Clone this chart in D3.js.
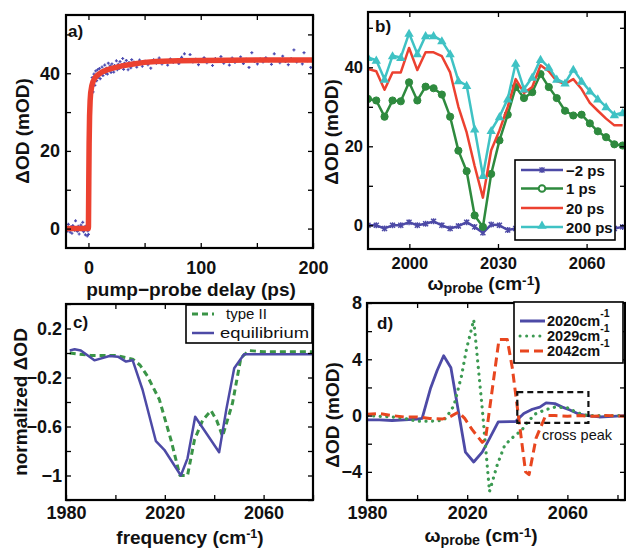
<!DOCTYPE html>
<html><head><meta charset="utf-8">
<script src="https://cdn.jsdelivr.net/npm/d3@7"></script>
<style>
body{margin:0;background:#fff;}
text{font-family:"Liberation Sans",Arial,sans-serif;}
</style></head>
<body><svg id="c" width="626" height="550"></svg>
<script>
// ---------- DATA ----------
// panel a: pump-probe transient (scatter) and fit
const aDelay = [-19.5,-18.7,-17.9,-17.1,-16.3,-15.5,-14.7,-13.9,-13.1,-12.3,-11.5,-10.7,-9.9,-9.1,-8.3,-7.5,-6.7,-5.9,-5.1,-4.3,-3.5,-2.7,-1.9,-1.1,-0.5,
 0,0.2,0.4,0.6,0.8,1.0,1.2,1.5,1.8,2.1,2.5,2.9,
 3.3,4.1,4.9,5.7,6.5,7.3,8.1,8.9,9.7,10.5,11.3,12.1,12.9,13.7,14.5,15.3,16.1,16.9,17.7,18.5,19.3,20.1,20.9,21.7,22.5,23.3,24.1,24.9,25.7,26.5,27.3,28.1,28.9,29.7,30.5,31.3,32.1,32.9,33.7,34.5,35.3,36.1,36.9,37.7,38.5,39.3,
 40.5,43,45.5,48,50.5,53,55.5,58,60.5,63,65.5,68,70.5,73,75.5,78,80.5,83,85.5,88,90.5,93,95.5,98,100.5,103,105.5,108,110.5,113,115.5,118,120.5,123,125.5,128,130.5,133,135.5,138,140.5,143,145.5,148,150.5,153,155.5,158,160.5,163,165.5,168,170.5,173,175.5,178,180.5,183,185.5,188,190.5,192,195,198];
const aSignal = [0.3,-0.6,1.1,0.2,-0.9,0.5,-1.2,0.8,0.1,-0.4,2.0,0.3,-0.7,0.6,-1.4,0.2,0.9,-0.3,1.6,-0.8,0.4,-1.6,0.7,-1.9,-0.6,
 -1.5,4,11,18,24,28,31,33,34.5,35.5,36.3,37,
 38.9,35.2,39.8,36.9,40.6,38.1,40.9,39.0,41.2,38.6,40.2,41.6,39.4,40.8,42.1,40.0,41.3,39.8,42.6,40.7,41.9,40.2,42.4,41.0,40.3,42.0,41.5,43.2,40.9,42.3,41.2,43.0,41.7,42.2,43.8,41.0,42.6,41.9,43.3,42.2,40.9,42.8,42.0,41.4,43.5,42.4,
 42.9,41.6,43.4,41.8,43.1,42.2,41.3,43.5,42.6,43.9,42.4,43.0,42.1,43.7,42.8,43.3,42.5,44.1,45.0,43.0,44.8,42.9,43.6,42.2,43.4,44.0,42.7,43.5,42.0,43.8,43.1,44.3,42.6,43.4,42.1,43.9,42.8,43.3,44.2,42.5,43.6,41.5,45.3,43.0,42.4,43.7,42.9,44.0,43.2,42.3,45.0,43.5,42.7,44.4,43.0,42.2,43.8,46.0,42.9,43.5,42.4,45.3,43.2,41.5];
const aFitDelay = [-20,-0.2,0,0.3,0.6,1,1.5,2,3,4,6,8,12,16,20,30,40,50,60,80,100,150,200];
const aFitSignal = [0,0,0.5,12,22,29,33,35,36.8,37.8,38.9,39.5,40.3,40.8,41.2,41.9,42.4,42.8,43.0,43.2,43.3,43.4,43.4];

// panel b: spectra at several delays
const bFreq = [1986.0,1988.8,1991.6,1994.3,1997.1,1999.9,2002.7,2005.5,2008.2,2011.0,2013.8,2016.6,2019.4,2022.1,2024.9,2027.7,2030.5,2033.3,2036.0,2038.8,2041.6,2044.4,2047.2,2049.9,2052.7,2055.5,2058.3,2061.1,2063.8,2066.6,2069.4,2072.2];
const bMinus2ps = [0,0,-0.8,0,0,0.8,0,0.4,1.0,0,-0.8,-0.2,0.8,-0.4,-1.9,0.2,0,-1.2,-0.8,-0.5,-0.3,0,0.3,0,-0.5,-0.3,0,0.2,-0.3,-0.6,-0.8,-0.4];
const b1ps = [32.0,31.6,27.5,31.6,31.4,36.2,31.6,35.1,34.7,33.1,27.5,18.9,13.7,2.5,-0.4,13,21.5,28,35,32.2,33.7,38.3,35,32.2,29,27.8,28,25.8,23.8,22.3,20.5,20.2];
const b20ps = [39.6,39,34.3,38.7,38.7,44.9,39.3,43.8,43.8,42.8,38.7,30,23.5,15,7,19,24,30,37,33.5,35,40.5,39,36.5,35.8,37,34.5,31,29,27,25.3,25.3];
const b200ps = [42.5,41.8,37,42.9,42.5,48.6,43.4,48,48,46.7,43.4,36.6,35.4,24.4,12.6,24,27.5,32,41,34.5,37.5,42,40,37,36,39.5,36.5,34,32,30,28,28.5];
const bLegend = ["\u22122 ps","1 ps","20 ps","200 ps"];

// panel c: normalized spectra
const cTypeIIFreq = [1981.5,1990,2000,2007,2010,2013,2017.8,2022.5,2026.1,2029.2,2032,2035.3,2038.7,2041,2043.4,2047.4,2050.8,2054.1,2060,2070,2080];
const cTypeII = [0.0,-0.02,-0.02,-0.05,-0.1,-0.19,-0.38,-0.71,-1.0,-1.0,-0.71,-0.55,-0.47,-0.55,-0.68,-0.41,-0.04,0.02,0.01,0.01,0.01];
const cEqFreq = [1981.5,1983.5,1986,1991.5,1997.6,2001,2004.3,2007,2011,2016.4,2019.8,2026.5,2029.2,2032.3,2042,2045,2048.1,2052.1,2060,2070,2080];
const cEq = [0.02,0.03,0.02,-0.06,-0.025,-0.03,-0.07,-0.06,-0.3,-0.72,-0.79,-1.0,-0.86,-0.52,-0.81,-0.45,-0.125,-0.01,-0.01,-0.01,-0.01];
const cLegend = ["type II","equilibrium"];

// panel d: difference spectra for pump frequencies
const d2020Freq = [1980,1985,1990,1995,2000,2002,2005.3,2008,2010.6,2013.5,2019.3,2022.6,2026,2029,2032.4,2039.3,2042.6,2046,2049,2051.5,2055,2058,2061,2064.7,2068,2072.7,2078,2083];
const d2020 = [-0.3,-0.3,-0.35,-0.3,-0.25,-0.2,1.9,3.2,4.25,3.4,-2.6,-3.3,-2.6,-1.6,-0.45,-0.42,0.15,0.45,0.6,0.9,0.85,0.6,0.4,0.1,0,-0.1,-0.05,0];
const d2029Freq = [1980,1985,1990,1995,2000,2005,2010.6,2012.5,2014.7,2017.7,2019.7,2022.6,2026,2028.9,2032,2035,2038.5,2041.7,2044,2047,2051,2055,2060,2064,2068,2075,2083];
const d2029 = [0,-0.05,-0.1,-0.2,-0.4,-0.4,-0.35,0.1,0.7,2.8,4.7,6.8,0.5,-5.4,-3.5,-2.1,-1.5,-1.05,-0.5,0.1,0.4,0.6,0.55,0.2,0,0,0];
const d2042Freq = [1980,1985,1990,1995,2000,2005,2010,2013,2016.5,2019,2022,2026,2027.3,2032.7,2036,2038,2043.3,2044.7,2047.5,2051.3,2055,2060,2065,2070,2075,2083];
const d2042 = [0.1,0.15,0,-0.1,-0.1,-0.2,-0.25,-0.1,0.25,-0.2,-1.0,-1.9,-1.7,5.4,5.4,3.4,-4.0,-4.2,-1.6,0,0,-0.05,0,-0.05,0,-0.05];
const dLegend = ["2020cm","2029cm","2042cm"];
const dBoxFreq = [2040, 2068.4];
const dBoxOD = [-0.52, 1.66];

// tick values
const aXTicks = [0,50,100,150,200], aXLabels = [0,100,200];
const aYTicks = [0,10,20,30,40,50], aYLabels = [0,20,40];
const bXTicks = [2000,2030,2060], bXLabels = [2000,2030,2060];
const bYTicks = [0,10,20,30,40,50], bYLabels = [0,20,40];
const cXTicks = [1980,2000,2020,2040,2060,2080], cXLabels = [1980,2020,2060];
const cYTicks = [0.4,0.2,0,-0.2,-0.4,-0.6,-0.8,-1,-1.2], cYLabels = [0.2,-0.2,-0.6,-1];
const dXTicks = [1980,2000,2020,2040,2060,2080], dXLabels = [1980,2020,2060];
const dYTicks = [8,6,4,2,0,-2,-4,-6], dYLabels = [8,4,0,-4];

// ---------- DRAWING ----------
const svg = d3.select("#c");
svg.append("rect").attr("width",626).attr("height",550).attr("fill","#fff");
const COL = {blue:"#4d4aa6", green:"#2e8a3e", red:"#ec4130", cyan:"#3fc2c4", gdash:"#3a9447", gdot:"#3c9a52", rdash:"#e8461f"};
let clipId = 0;

function makePanel(o){
  const x = d3.scaleLinear().domain(o.xd).range([o.l,o.r]);
  const y = d3.scaleLinear().domain(o.yd).range([o.b,o.t]);
  const id = "clip"+(clipId++);
  svg.append("clipPath").attr("id",id).append("rect")
     .attr("x",o.l).attr("y",o.t).attr("width",o.r-o.l).attr("height",o.b-o.t);
  const g = svg.append("g").attr("clip-path",`url(#${id})`);
  const fmt = d3.format("");
  const lab = (list)=> d=> list.some(v=>Math.abs(v-d)<1e-9) ? fmt(d).replace("-","\u2212") : "";
  const style = sel => { sel.select(".domain").remove();
     sel.selectAll(".tick line").attr("stroke","#000").attr("stroke-width",1.3);
     sel.selectAll("text").attr("font-size",o.fs).attr("font-weight","bold").attr("fill","#111"); };
  svg.append("g").attr("transform",`translate(0,${o.b})`)
    .call(d3.axisBottom(x).tickValues(o.xt).tickSizeInner(-5).tickSizeOuter(0).tickPadding(o.xpad).tickFormat(lab(o.xl))).call(style);
  svg.append("g").attr("transform",`translate(0,${o.t})`)
    .call(d3.axisTop(x).tickValues(o.xt).tickSizeInner(-5).tickSizeOuter(0).tickFormat(()=> "")).call(style);
  svg.append("g").attr("transform",`translate(${o.l},0)`)
    .call(d3.axisLeft(y).tickValues(o.yt).tickSizeInner(-5).tickSizeOuter(0).tickPadding(o.ypad).tickFormat(lab(o.yl))).call(style);
  svg.append("g").attr("transform",`translate(${o.r},0)`)
    .call(d3.axisRight(y).tickValues(o.yt).tickSizeInner(-5).tickSizeOuter(0).tickFormat(()=> "")).call(style);
  return {x,y,g,o};
}
function frame(p){
  const o=p.o;
  svg.append("rect").attr("x",o.l).attr("y",o.t).attr("width",o.r-o.l).attr("height",o.b-o.t)
     .attr("fill","none").attr("stroke","#000").attr("stroke-width",2.2);
}
function line(p, xs, ys, color, w, dash, cap){
  const gen = d3.line().x((d,i)=>p.x(xs[i])).y((d,i)=>p.y(ys[i]));
  p.g.append("path").attr("d",gen(xs)).attr("fill","none").attr("stroke",color)
    .attr("stroke-width",w).attr("stroke-linejoin","round")
    .attr("stroke-linecap",cap||"butt").attr("stroke-dasharray",dash||null);
}
function txt(x,y,s,fs,opts){
  opts=opts||{};
  const t=svg.append("text").attr("x",x).attr("y",y).attr("font-size",fs)
    .attr("font-weight",opts.w||"bold").attr("text-anchor",opts.a||"middle").attr("fill","#111").text(s);
  if(opts.rot) t.attr("transform",`rotate(-90,${x},${y})`);
  return t;
}
function omegaTitle(cx,y,fs){
  const t=svg.append("text").attr("x",cx).attr("y",y).attr("text-anchor","middle").attr("font-size",fs).attr("font-weight","bold").attr("fill","#111");
  t.append("tspan").text("\u03c9");
  t.append("tspan").attr("font-size",fs*0.75).attr("dy",3).text("probe");
  t.append("tspan").attr("dy",-3).text(" (cm");
  t.append("tspan").attr("font-size",fs*0.72).attr("dy",-5).text("-1");
  t.append("tspan").attr("dy",5).text(")");
}

// ---- panel a ----
const pa = makePanel({l:66,r:313,t:15,b:248,xd:[-20,200],yd:[-5,55],xt:aXTicks,xl:aXLabels,yt:aYTicks,yl:aYLabels,fs:18,xpad:13,ypad:6});
pa.g.selectAll("path.pt").data(aDelay).enter().append("path")
  .attr("d",(d,i)=>{const X=pa.x(d),Y=pa.y(aSignal[i]);return `M${X-1.5},${Y}h3M${X},${Y-1.5}v3`;})
  .attr("stroke","#4a4ab0").attr("stroke-width",1.2);
line(pa, aFitDelay, aFitSignal, COL.red, 5.5, null, "round");
frame(pa);
txt(68,37,"a)",17,{a:"start"});
txt(191,296,"pump\u2212probe delay (ps)",19);
txt(29,131,"\u0394OD (mOD)",19,{rot:true});

// ---- panel b ----
const pb = makePanel({l:368,r:625,t:12,b:249,xd:[1986,2073],yd:[-6,54],xt:bXTicks,xl:bXLabels,yt:bYTicks,yl:bYLabels,fs:16.5,xpad:8,ypad:5});
line(pb,bFreq,bMinus2ps,COL.blue,2.5);
pb.g.selectAll("path.x").data(bFreq).enter().append("path")
  .attr("d",(d,i)=>{const X=pb.x(d),Y=pb.y(bMinus2ps[i]);return `M${X-2.5},${Y-2.5}L${X+2.5},${Y+2.5}M${X-2.5},${Y+2.5}L${X+2.5},${Y-2.5}M${X},${Y-3}v6`;})
  .attr("stroke",COL.blue).attr("stroke-width",1.4);
line(pb,bFreq,b1ps,COL.green,2.5);
pb.g.selectAll("circle.g").data(bFreq).enter().append("circle")
  .attr("cx",d=>pb.x(d)).attr("cy",(d,i)=>pb.y(b1ps[i])).attr("r",3.6).attr("fill",COL.green).attr("stroke",COL.green).attr("stroke-width",1);
line(pb,bFreq,b20ps,COL.red,2.5);
line(pb,bFreq,b200ps,COL.cyan,2.5);
const tri = d3.symbol().type(d3.symbolTriangle).size(38);
pb.g.selectAll("path.t").data(bFreq).enter().append("path")
  .attr("d",tri).attr("transform",(d,i)=>`translate(${pb.x(d)},${pb.y(b200ps[i])+0.8})`).attr("fill",COL.cyan);
frame(pb);
txt(375,32,"b)",17,{a:"start"});
txt(338,132,"\u0394OD (mOD)",19,{rot:true});
omegaTitle(484,290,19);
// legend b
{
  const lg = svg.append("g");
  lg.append("rect").attr("x",515).attr("y",160).attr("width",100).attr("height",80).attr("fill","#fff").attr("stroke","#000").attr("stroke-width",1.6);
  const ys=[170,188.5,208,227], cols=[COL.blue,COL.green,COL.red,COL.cyan];
  bLegend.forEach((s,i)=>{
    lg.append("line").attr("x1",521).attr("x2",563).attr("y1",ys[i]).attr("y2",ys[i]).attr("stroke",cols[i]).attr("stroke-width",2.5);
    if(i===0) lg.append("path").attr("d",`M539.5,${ys[i]-2.5}l5,5M539.5,${ys[i]+2.5}l5,-5M542,${ys[i]-3}v6`).attr("stroke",cols[i]).attr("stroke-width",1.4);
    if(i===1) lg.append("circle").attr("cx",542).attr("cy",ys[i]).attr("r",3.3).attr("fill","#fff").attr("stroke",cols[i]).attr("stroke-width",2);
    if(i===3) lg.append("path").attr("d",tri).attr("transform",`translate(542,${ys[i]-1})`).attr("fill",cols[i]);
    txt(566,ys[i]+5.5,s,15,{a:"start"});
  });
}

// ---- panel c ----
const pc = makePanel({l:66,r:313,t:304,b:500,xd:[1980,2080],yd:[-1.2,0.4],xt:cXTicks,xl:cXLabels,yt:cYTicks,yl:cYLabels,fs:18,xpad:6,ypad:4});
line(pc,cTypeIIFreq,cTypeII,COL.gdash,3,"6,4");
line(pc,cEqFreq,cEq,COL.blue,2.5);
frame(pc);
txt(73,328,"c)",17,{a:"start"});
{
  const lg = svg.append("g");
  lg.append("rect").attr("x",186).attr("y",305).attr("width",126).attr("height",38).attr("fill","#fff").attr("stroke","#000").attr("stroke-width",1.6);
  lg.append("line").attr("x1",192).attr("x2",214).attr("y1",314).attr("y2",314).attr("stroke",COL.gdash).attr("stroke-width",3).attr("stroke-dasharray","6,4");
  lg.append("line").attr("x1",192).attr("x2",214).attr("y1",333).attr("y2",333).attr("stroke",COL.blue).attr("stroke-width",2.5);
  txt(226,318.5,cLegend[0],15,{a:"start",w:"normal"});
  txt(220,337.5,cLegend[1],15,{a:"start",w:"normal"}).attr("textLength",89).attr("lengthAdjust","spacingAndGlyphs");
}
{
  const t=svg.append("text").attr("x",190).attr("y",544).attr("text-anchor","middle").attr("font-size",19).attr("font-weight","bold").attr("fill","#111");
  t.append("tspan").text("frequency (cm");
  t.append("tspan").attr("font-size",12.5).attr("dy",-6).text("-1");
  t.append("tspan").attr("dy",6).text(")");
}
txt(27,402,"normalized \u0394OD",19,{rot:true});

// ---- panel d ----
const pd = makePanel({l:367,r:625,t:303,b:500,xd:[1980,2083],yd:[-6,8],xt:dXTicks,xl:dXLabels,yt:dYTicks,yl:dYLabels,fs:18,xpad:6,ypad:5});
line(pd,d2020Freq,d2020,COL.blue,2.8);
line(pd,d2029Freq,d2029,COL.gdot,3.2,"0.1,6.5","round");
line(pd,d2042Freq,d2042,COL.rdash,3,"9,5");
pd.g.append("rect").attr("x",pd.x(dBoxFreq[0])).attr("y",pd.y(dBoxOD[1]))
  .attr("width",pd.x(dBoxFreq[1])-pd.x(dBoxFreq[0])).attr("height",pd.y(dBoxOD[0])-pd.y(dBoxOD[1]))
  .attr("fill","none").attr("stroke","#111").attr("stroke-width",2.2).attr("stroke-dasharray","6,4");
frame(pd);
txt(377,329,"d)",17,{a:"start"});
txt(577,440,"cross peak",14.5,{w:"normal"});
txt(339,415,"\u0394OD (mOD)",19,{rot:true});
omegaTitle(481,542,19);
{
  const lg = svg.append("g");
  lg.append("rect").attr("x",514).attr("y",302).attr("width",109).attr("height",61).attr("fill","#fff").attr("stroke","#000").attr("stroke-width",1.6);
  const ys=[325,340,355], cols=[COL.blue,COL.gdot,COL.rdash], dashes=[null,"0.1,6.5","9,5"], caps=["butt","round","butt"];
  dLegend.forEach((s,i)=>{
    lg.append("line").attr("x1",520).attr("x2",545).attr("y1",ys[i]-4).attr("y2",ys[i]-4).attr("stroke",cols[i]).attr("stroke-width",3)
      .attr("stroke-dasharray",dashes[i]).attr("stroke-linecap",caps[i]);
    const t=lg.append("text").attr("x",547).attr("y",ys[i]+1).attr("font-size",14.5).attr("font-weight","bold").attr("fill","#111");
    t.append("tspan").text(s);
    t.append("tspan").attr("font-size",10.5).attr("dy",-9).text("-1");
  });
}
</script></body></html>
